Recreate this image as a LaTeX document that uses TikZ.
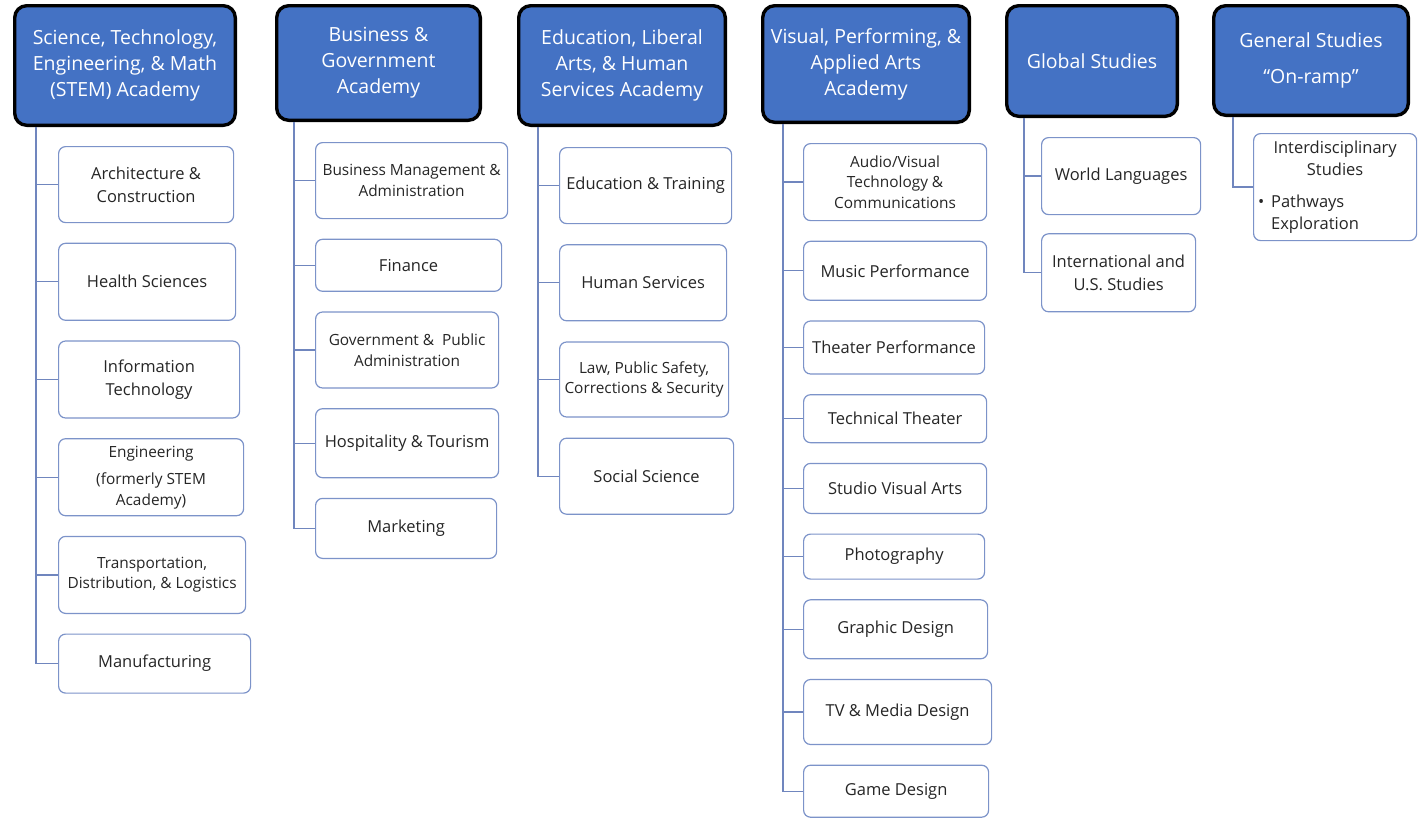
\documentclass[tikz,border=0pt]{standalone}
\usepackage{fontspec}
\setmainfont{Open Sans}
\usepackage{xcolor}
\usepackage{tikz}
\usetikzlibrary{positioning}

\definecolor{hdrblue}{RGB}{68,114,196}
\definecolor{kidline}{RGB}{124,147,201}
\definecolor{linkline}{RGB}{112,134,190}
\definecolor{kidtext}{RGB}{38,38,38}

\begin{document}
\begin{tikzpicture}[
    node distance=19.5pt,
    academy/.style={
        rectangle,
        rounded corners=12pt,
        draw=black,
        line width=3.4pt,
        fill=hdrblue,
        text=white,
        align=center,
        font=\fontsize{19.5}{26}\selectfont
    },
    kid/.style={
        rectangle,
        rounded corners=7pt,
        draw=kidline,
        line width=1.2pt,
        fill=white,
        text=kidtext,
        align=center,
        font=\fontsize{16.5}{22.5}\selectfont
    },
    kidsmall/.style={
        kid, font=\fontsize{15.4}{20.5}\selectfont
    },
    link/.style={
        draw=linkline, line width=1.3pt
    }
]
\useasboundingbox (0pt,0pt) rectangle (1418pt,-817pt);

% Academies
\node[academy, anchor=north west, minimum width=220.6pt, minimum height=119.6pt] (stem) at (13pt,-4pt)
    {Science, Technology,\\Engineering, \& Math\\(STEM) Academy};
\node[academy, right=38pt of stem.north east, anchor=north west, minimum width=203.6pt, minimum height=114.6pt] (biz)
    {Business \&\\Government\\Academy};
\node[academy, right=35pt of biz.north east, anchor=north west, minimum width=206.6pt, minimum height=119.6pt] (edu)
    {Education, Liberal\\Arts, \& Human\\Services Academy};
\node[academy, right=34pt of edu.north east, anchor=north west, minimum width=206.6pt, minimum height=116.6pt] (arts)
    {Visual, Performing, \&\\Applied Arts\\Academy};
\node[academy, right=34pt of arts.north east, anchor=north west, minimum width=170.6pt, minimum height=110.6pt] (global)
    {Global Studies};
\node[academy, right=33pt of global.north east, anchor=north west, minimum width=194.6pt, minimum height=109.6pt] (general)
    {General Studies\\[10pt]“On-ramp”};

% STEM pathways
\node[kid, below=19pt of stem.south west, anchor=north west, xshift=45pt, minimum width=175pt, minimum height=76pt] (arch) {Architecture \&\\Construction};
\node[kid, below=of arch.south west, anchor=north west, minimum width=177pt, minimum height=77pt] (health) {Health Sciences};
\node[kid, below=of health.south west, anchor=north west, minimum width=181pt, minimum height=77pt] (infotech) {Information\\Technology};
\node[kidsmall, below=of infotech.south west, anchor=north west, minimum width=185pt, minimum height=77pt] (engr) {Engineering\\[7pt](formerly STEM\\Academy)};
\node[kidsmall, below=of engr.south west, anchor=north west, minimum width=187pt, minimum height=77pt] (transport) {Transportation,\\Distribution, \& Logistics};
\node[kid, below=of transport.south west, anchor=north west, minimum width=192pt, minimum height=59pt] (manuf) {Manufacturing};

% Business pathways
\node[kidsmall, below=20pt of biz.south west, anchor=north west, xshift=40pt, minimum width=192pt, minimum height=76pt] (bizmgmt) {Business Management \&\\Administration};
\node[kid, below=of bizmgmt.south west, anchor=north west, minimum width=186pt, minimum height=52pt] (finance) {Finance};
\node[kidsmall, below=of finance.south west, anchor=north west, minimum width=183pt, minimum height=76pt] (govt) {Government \&\ \ Public\\Administration};
\node[kid, below=of govt.south west, anchor=north west, minimum width=183pt, minimum height=69pt] (hosp) {Hospitality \& Tourism};
\node[kid, below=of hosp.south west, anchor=north west, minimum width=181pt, minimum height=60pt] (market) {Marketing};

% Education pathways
\node[kid, below=20pt of edu.south west, anchor=north west, xshift=42pt, minimum width=172pt, minimum height=76pt] (edtrain) {Education \& Training};
\node[kid, below=20pt of edtrain.south west, anchor=north west, minimum width=167pt, minimum height=76pt] (humserv) {Human Services};
\node[kidsmall, below=20pt of humserv.south west, anchor=north west, minimum width=169pt, minimum height=75pt] (law) {Law, Public Safety,\\Corrections \& Security};
\node[kid, below=20pt of law.south west, anchor=north west, minimum width=174pt, minimum height=76pt] (socsci) {Social Science};

% Arts pathways
\node[kidsmall, below=19pt of arts.south west, anchor=north west, xshift=42pt, minimum width=183pt, minimum height=77pt] (audio) {Audio/Visual\\Technology \&\\Communications};
\node[kid, below=of audio.south west, anchor=north west, minimum width=183pt, minimum height=59pt] (music) {Music Performance};
\node[kid, below=of music.south west, anchor=north west, minimum width=181pt, minimum height=53pt] (theater) {Theater Performance};
\node[kid, below=of theater.south west, anchor=north west, minimum width=183pt, minimum height=48pt] (techth) {Technical Theater};
\node[kid, below=of techth.south west, anchor=north west, minimum width=183pt, minimum height=50pt] (studio) {Studio Visual Arts};
\node[kid, below=of studio.south west, anchor=north west, minimum width=181pt, minimum height=45pt] (photo) {Photography};
\node[kid, below=of photo.south west, anchor=north west, minimum width=184pt, minimum height=59pt] (graphic) {Graphic Design};
\node[kid, below=of graphic.south west, anchor=north west, minimum width=188pt, minimum height=65pt] (media) {TV \& Media Design};
\node[kid, below=of media.south west, anchor=north west, minimum width=185pt, minimum height=52pt] (game) {Game Design};

% Global pathways
\node[kid, below=19pt of global.south west, anchor=north west, xshift=36pt, minimum width=159pt, minimum height=77pt] (worldlang) {World Languages};
\node[kid, below=18pt of worldlang.south west, anchor=north west, minimum width=154pt, minimum height=78pt] (intl) {International and\\U.S. Studies};

% General pathway
\node[kid, below=16pt of general.south west, anchor=north west, xshift=41pt, minimum width=163pt, minimum height=107pt,
      text width=154pt, align=left, inner sep=3pt] (interdis)
    {\centering Interdisciplinary\\Studies\par\vspace{9pt}\raggedright
     \makebox[13pt][l]{\textbullet}Pathways\\\hspace*{13pt}Exploration};

% Trunk roots
\coordinate (stemroot) at ([xshift=23pt]stem.south west);
\coordinate (bizroot) at ([xshift=19pt]biz.south west);
\coordinate (eduroot) at ([xshift=21pt]edu.south west);
\coordinate (artsroot) at ([xshift=22pt]arts.south west);
\coordinate (globalroot) at ([xshift=19pt]global.south west);
\coordinate (generalroot) at ([xshift=21pt]general.south west);

% Links
\draw[link] (stemroot) |- (manuf.west);
\draw[link] (stemroot |- arch.west) -- (arch.west);
\draw[link] (stemroot |- health.west) -- (health.west);
\draw[link] (stemroot |- infotech.west) -- (infotech.west);
\draw[link] (stemroot |- engr.west) -- (engr.west);
\draw[link] (stemroot |- transport.west) -- (transport.west);

\draw[link] (bizroot) |- (market.west);
\draw[link] (bizroot |- bizmgmt.west) -- (bizmgmt.west);
\draw[link] (bizroot |- finance.west) -- (finance.west);
\draw[link] (bizroot |- govt.west) -- (govt.west);
\draw[link] (bizroot |- hosp.west) -- (hosp.west);

\draw[link] (eduroot) |- (socsci.west);
\draw[link] (eduroot |- edtrain.west) -- (edtrain.west);
\draw[link] (eduroot |- humserv.west) -- (humserv.west);
\draw[link] (eduroot |- law.west) -- (law.west);

\draw[link] (artsroot) |- (game.west);
\draw[link] (artsroot |- audio.west) -- (audio.west);
\draw[link] (artsroot |- music.west) -- (music.west);
\draw[link] (artsroot |- theater.west) -- (theater.west);
\draw[link] (artsroot |- techth.west) -- (techth.west);
\draw[link] (artsroot |- studio.west) -- (studio.west);
\draw[link] (artsroot |- photo.west) -- (photo.west);
\draw[link] (artsroot |- graphic.west) -- (graphic.west);
\draw[link] (artsroot |- media.west) -- (media.west);

\draw[link] (globalroot) |- (intl.west);
\draw[link] (globalroot |- worldlang.west) -- (worldlang.west);

\draw[link] (generalroot) |- (interdis.west);
\end{tikzpicture}
\end{document}
